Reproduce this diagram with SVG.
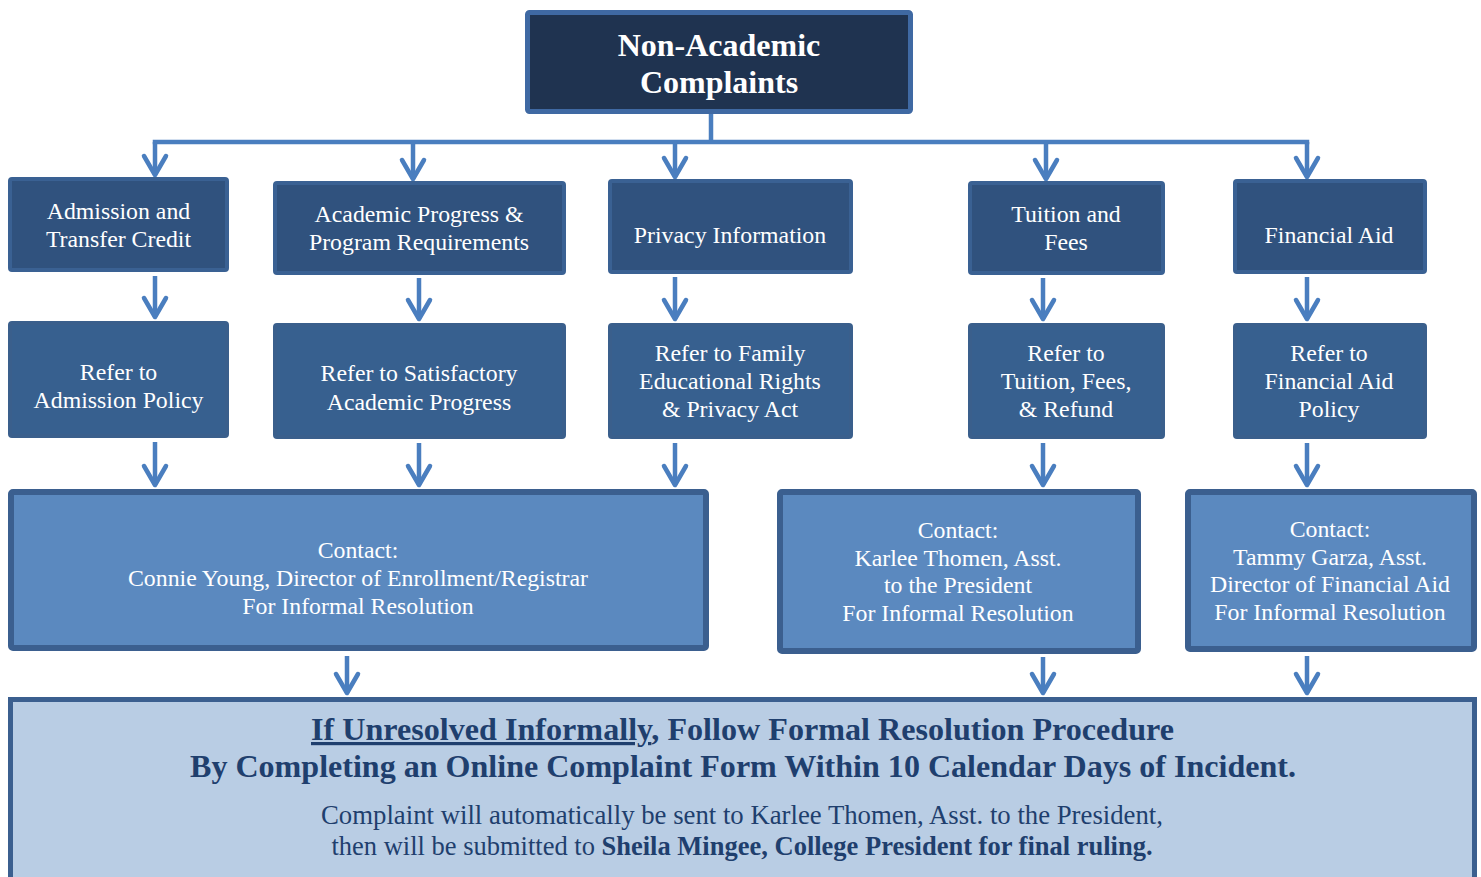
<svg xmlns="http://www.w3.org/2000/svg" width="1481" height="877" viewBox="0 0 1481 877">
<style>
  .t{font-family:"Liberation Serif","Times New Roman",serif;fill:#fff;text-anchor:middle;font-size:23.8px}
  .title{font-family:"Liberation Serif","Times New Roman",serif;fill:#fff;text-anchor:middle;font-size:32px;font-weight:bold}
  .b{font-family:"Liberation Serif","Times New Roman",serif;fill:#1F3F6E;text-anchor:middle}
  .top{fill:#1F3350;stroke:#3F69A3;stroke-width:5}
  .l1{fill:#30527E;stroke:#3A6193;stroke-width:4}
  .l2{fill:#37608F;stroke:#3A5F8C;stroke-width:4}
  .l3{fill:#5B89BF;stroke:#3B5F8F;stroke-width:6}
  .bot{fill:#B9CDE4;stroke:#3B5F8F;stroke-width:5}
  .c{fill:none;stroke:#4A7EBF;stroke-width:4.5}
  .a{fill:none;stroke:#4A7EBF;stroke-width:4.5;marker-end:url(#chev)}
</style>
<defs>
  <marker id="chev" markerUnits="userSpaceOnUse" viewBox="-25 -15 30 30" refX="0" refY="0" markerWidth="30" markerHeight="30" orient="auto" overflow="visible">
    <path d="M-19,-11 L0,0 L-19,11" fill="none" stroke="#4A7EBF" stroke-width="4.5" stroke-linejoin="round" stroke-linecap="round"/>
  </marker>
</defs>
<rect width="1481" height="877" fill="#fff"/>

<g id="connectors">
  <path class="c" d="M711,114 V142"/>
  <path class="c" d="M155,142 H1307" stroke-linecap="square"/>
  <path class="a" d="M155,142 V175"/>
  <path class="a" d="M413,142 V179"/>
  <path class="a" d="M675,142 V177"/>
  <path class="a" d="M1046,142 V179"/>
  <path class="a" d="M1307,142 V177"/>

  <path class="a" d="M155,276 V317"/>
  <path class="a" d="M419,278 V319"/>
  <path class="a" d="M675,277 V319"/>
  <path class="a" d="M1043,278 V319"/>
  <path class="a" d="M1307,277 V319"/>

  <path class="a" d="M155,442 V485"/>
  <path class="a" d="M419,443 V485"/>
  <path class="a" d="M675,443 V485"/>
  <path class="a" d="M1043,443 V485"/>
  <path class="a" d="M1307,443 V485"/>

  <path class="a" d="M347,656 V693"/>
  <path class="a" d="M1043,657 V693"/>
  <path class="a" d="M1307,656 V693"/>
</g>

<g id="root">
  <rect class="top" x="527.5" y="12.5" width="383" height="99" rx="2"/>
  <text class="title" x="719" y="56">Non-Academic</text>
  <text class="title" x="719" y="93">Complaints</text>
</g>

<g id="admission">
  <rect class="l1" x="10" y="179" width="217" height="91" rx="2"/>
  <text class="t" x="118.5" y="219">Admission and</text>
  <text class="t" x="118.5" y="247">Transfer Credit</text>
</g>
<g id="academic">
  <rect class="l1" x="275" y="183" width="289" height="90" rx="2"/>
  <text class="t" x="419" y="222">Academic Progress &amp;</text>
  <text class="t" x="419" y="250">Program Requirements</text>
</g>
<g id="privacy">
  <rect class="l1" x="610" y="181" width="241" height="91" rx="2"/>
  <text class="t" x="730" y="243">Privacy Information</text>
</g>
<g id="tuition">
  <rect class="l1" x="970" y="183" width="193" height="90" rx="2"/>
  <text class="t" x="1066" y="222">Tuition and</text>
  <text class="t" x="1066" y="250">Fees</text>
</g>
<g id="finaid">
  <rect class="l1" x="1235" y="181" width="190" height="91" rx="2"/>
  <text class="t" x="1329" y="243">Financial Aid</text>
</g>

<g id="refer-admission">
  <rect class="l2" x="10" y="323" width="217" height="113" rx="2"/>
  <text class="t" x="118.5" y="380">Refer to</text>
  <text class="t" x="118.5" y="408">Admission Policy</text>
</g>
<g id="refer-sap">
  <rect class="l2" x="275" y="325" width="289" height="112" rx="2"/>
  <text class="t" x="419" y="381">Refer to Satisfactory</text>
  <text class="t" x="419" y="410">Academic Progress</text>
</g>
<g id="refer-ferpa">
  <rect class="l2" x="610" y="325" width="241" height="112" rx="2"/>
  <text class="t" x="730" y="361">Refer to Family</text>
  <text class="t" x="730" y="389">Educational Rights</text>
  <text class="t" x="730" y="417">&amp; Privacy Act</text>
</g>
<g id="refer-tuition">
  <rect class="l2" x="970" y="325" width="193" height="112" rx="2"/>
  <text class="t" x="1066" y="361">Refer to</text>
  <text class="t" x="1066" y="389">Tuition, Fees,</text>
  <text class="t" x="1066" y="417">&amp; Refund</text>
</g>
<g id="refer-finaid">
  <rect class="l2" x="1235" y="325" width="190" height="112" rx="2"/>
  <text class="t" x="1329" y="361">Refer to</text>
  <text class="t" x="1329" y="389">Financial Aid</text>
  <text class="t" x="1329" y="417">Policy</text>
</g>

<g id="contact-registrar">
  <rect class="l3" x="11" y="492" width="695" height="156" rx="2"/>
  <text class="t" x="358" y="558">Contact:</text>
  <text class="t" x="358" y="586">Connie Young, Director of Enrollment/Registrar</text>
  <text class="t" x="358" y="614">For Informal Resolution</text>
</g>
<g id="contact-president">
  <rect class="l3" x="780" y="492" width="358" height="159" rx="2"/>
  <text class="t" x="958" y="538">Contact:</text>
  <text class="t" x="958" y="566">Karlee Thomen, Asst.</text>
  <text class="t" x="958" y="593">to the President</text>
  <text class="t" x="958" y="621">For Informal Resolution</text>
</g>
<g id="contact-finaid">
  <rect class="l3" x="1188" y="492" width="286" height="157" rx="2"/>
  <text class="t" x="1330" y="537">Contact:</text>
  <text class="t" x="1330" y="565">Tammy Garza, Asst.</text>
  <text class="t" x="1330" y="592">Director of Financial Aid</text>
  <text class="t" x="1330" y="620">For Informal Resolution</text>
</g>

<g id="formal-resolution">
  <rect class="bot" x="10.5" y="699.5" width="1464" height="190"/>
  <text class="b" x="742.5" y="740" font-size="32" font-weight="bold" textLength="863" lengthAdjust="spacingAndGlyphs"><tspan text-decoration="underline">If Unresolved Informally</tspan>, Follow Formal Resolution Procedure</text>
  <text class="b" x="743" y="777" font-size="32" font-weight="bold" textLength="1106" lengthAdjust="spacingAndGlyphs">By Completing an Online Complaint Form Within 10 Calendar Days of Incident.</text>
  <text class="b" x="742" y="824" font-size="26.5" textLength="842" lengthAdjust="spacingAndGlyphs">Complaint will automatically be sent to Karlee Thomen, Asst. to the President,</text>
  <text class="b" x="742" y="855" font-size="26.5">then will be submitted to <tspan font-weight="bold">Sheila Mingee, College President for final ruling.</tspan></text>
</g>
</svg>
